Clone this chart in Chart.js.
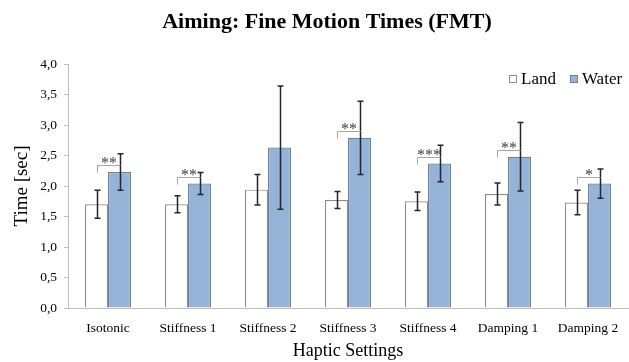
<!DOCTYPE html>
<html lang="en">
<head>
    <meta charset="UTF-8">
    <title>Aiming: Fine Motion Times</title>
    <script src="https://cdn.jsdelivr.net/npm/chart.js"></script>
    <style>
        body { margin: 0; background: #fff; }
        #wrap { width: 629px; height: 362px; }
    </style>
</head>
<body>
    <div id="wrap"><canvas id="fmt"></canvas></div>
    <script>
        // data
        const settings = ['Isotonic', 'Stiffness 1', 'Stiffness 2', 'Stiffness 3', 'Stiffness 4', 'Damping 1', 'Damping 2'];
        const landTime = [1.70, 1.70, 1.94, 1.77, 1.75, 1.87, 1.73];
        const landErr = [0.23, 0.14, 0.25, 0.14, 0.15, 0.18, 0.20];
        const waterTime = [2.23, 2.04, 2.63, 2.79, 2.37, 2.48, 2.04];
        const waterErr = [0.30, 0.18, 1.01, 0.60, 0.30, 0.56, 0.24];
        const signif = ['**', '**', '', '**', '***', '**', '*'];
        const yTicks = [0, 0.5, 1, 1.5, 2, 2.5, 3, 3.5, 4];

        const serif = '"Liberation Serif", "Times New Roman", serif';
        const chartTitle = 'Aiming: Fine Motion Times (FMT)';

        // title, legend, error bars + significance brackets
        const extras = {
            id: 'extras',
            afterDraw(chart) {
                const ctx = chart.ctx;
                ctx.save();
                ctx.fillStyle = '#000';
                ctx.font = 'bold 22px ' + serif;
                ctx.textAlign = 'center';
                ctx.textBaseline = 'middle';
                ctx.fillText(chartTitle, 327, 22);

                // legend
                ctx.font = '17px ' + serif;
                ctx.textAlign = 'left';
                let lx = 509;
                chart.data.datasets.forEach(ds => {
                    ctx.fillStyle = ds.backgroundColor;
                    ctx.fillRect(lx, 75, 8, 8);
                    ctx.strokeStyle = ds.borderColor;
                    ctx.lineWidth = 1;
                    ctx.strokeRect(lx + 0.5, 75.5, 7, 7);
                    ctx.fillStyle = '#000';
                    ctx.fillText(ds.label, lx + 12, 80);
                    lx += 12 + ctx.measureText(ds.label).width + 14;
                });
                ctx.restore();
            },
            afterDatasetsDraw(chart) {
                const ctx = chart.ctx;
                const y = chart.scales.y;
                const errs = [landErr, waterErr];
                ctx.save();
                ctx.strokeStyle = '#262626';
                ctx.lineWidth = 1.5;
                [0, 1].forEach(d => {
                    const meta = chart.getDatasetMeta(d);
                    const vals = chart.data.datasets[d].data;
                    meta.data.forEach((bar, i) => {
                        const top = y.getPixelForValue(vals[i] + errs[d][i]);
                        const bot = y.getPixelForValue(vals[i] - errs[d][i]);
                        const x = Math.round(bar.x) + 0.5;
                        ctx.beginPath();
                        ctx.moveTo(x, top); ctx.lineTo(x, bot);
                        ctx.moveTo(x - 3, top); ctx.lineTo(x + 3, top);
                        ctx.moveTo(x - 3, bot); ctx.lineTo(x + 3, bot);
                        ctx.stroke();
                    });
                });
                const land = chart.getDatasetMeta(0).data;
                const water = chart.getDatasetMeta(1).data;
                ctx.strokeStyle = '#a6a6a6';
                ctx.lineWidth = 1;
                ctx.fillStyle = '#404040';
                ctx.font = '16px ' + serif;
                ctx.textAlign = 'center';
                ctx.textBaseline = 'alphabetic';
                signif.forEach((s, i) => {
                    if (!s) return;
                    const x1 = Math.round(land[i].x) + 0.5;
                    const x2 = Math.round(water[i].x) + 0.5;
                    const by = Math.round(y.getPixelForValue(waterTime[i] + 0.11)) + 0.5;
                    ctx.beginPath();
                    ctx.moveTo(x1, by + 7); ctx.lineTo(x1, by); ctx.lineTo(x2, by);
                    ctx.stroke();
                    ctx.fillText(s, (x1 + x2) / 2, by + 2);
                });
                ctx.restore();
            }
        };

        new Chart(document.getElementById('fmt'), {
            type: 'bar',
            data: {
                labels: settings,
                datasets: [{
                    label: 'Land',
                    data: landTime,
                    backgroundColor: '#ffffff',
                    borderColor: '#8c8c8c',
                    borderWidth: 1.2
                }, {
                    label: 'Water',
                    data: waterTime,
                    backgroundColor: '#95b3d7',
                    borderColor: '#6f8197',
                    borderWidth: 1.2
                }]
            },
            options: {
                responsive: true,
                maintainAspectRatio: false,
                animation: false,
                datasets: { bar: { categoryPercentage: 0.575, barPercentage: 1 } },
                layout: { padding: { top: 64, left: 0, right: 1, bottom: 0 } },
                plugins: {
                    title: { display: false },
                    legend: { display: false },
                    tooltip: { enabled: false }
                },
                scales: {
                    x: {
                        afterFit(axis) { axis.height = 54; },
                        grid: { display: false },
                        border: { color: '#bfbfbf' },
                        ticks: { color: '#000', font: { family: serif, size: 13.5 }, maxRotation: 0, padding: 4 },
                        title: {
                            display: true,
                            text: 'Haptic Settings',
                            color: '#000',
                            font: { family: serif, size: 18 },
                            padding: { top: 0, bottom: 0 }
                        }
                    },
                    y: {
                        min: 0,
                        max: 4,
                        afterBuildTicks(axis) { axis.ticks = yTicks.map(v => ({ value: v })); },
                        afterFit(axis) { axis.width = 68; },
                        grid: { drawOnChartArea: false, drawTicks: true, tickLength: 4, color: '#bfbfbf' },
                        border: { color: '#bfbfbf' },
                        ticks: {
                            color: '#000',
                            font: { family: serif, size: 13.5 },
                            padding: 7,
                            callback: v => v.toFixed(1).replace('.', ',')
                        },
                        title: {
                            display: true,
                            text: 'Time [sec]',
                            color: '#000',
                            font: { family: serif, size: 19 },
                            padding: { top: 11, bottom: 0 }
                        }
                    }
                }
            },
            plugins: [extras]
        });
    </script>
</body>
</html>
